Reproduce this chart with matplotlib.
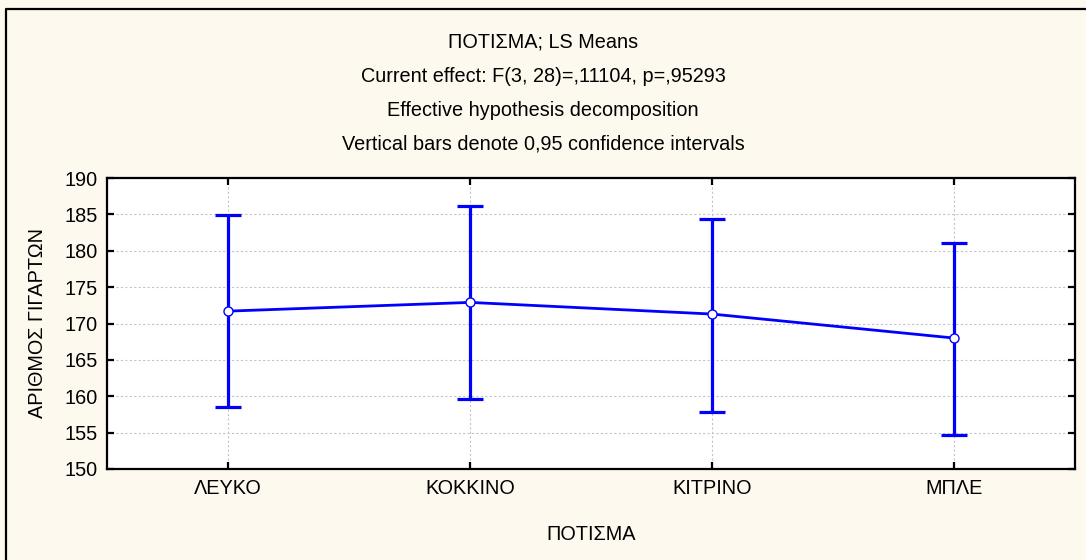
import numpy as np
import matplotlib.pyplot as plt
from matplotlib.lines import Line2D

plt.rcParams['font.family'] = ['Liberation Sans', 'DejaVu Sans']

# LS means and 0.95 confidence limits
groups = ['ΛΕΥΚΟ', 'ΚΟΚΚΙΝΟ', 'ΚΙΤΡΙΝΟ', 'ΜΠΛΕ']
means = [171.7, 172.9, 171.3, 168.0]
upper = [184.9, 186.1, 184.3, 181.0]
lower = [158.5, 159.6, 157.9, 154.7]
yticks = [150, 155, 160, 165, 170, 175, 180, 185, 190]

title_lines = ['ΠΟΤΙΣΜΑ; LS Means',
               'Current effect: F(3, 28)=,11104, p=,95293',
               'Effective hypothesis decomposition',
               'Vertical bars denote 0,95 confidence intervals']

bg = '#fdf9ee'
blue = '#0000ff'
fs = 14.3

fig = plt.figure(figsize=(10.86, 5.6), dpi=100, facecolor=bg)
ax = fig.add_axes([107/1086, 1-469/560, 968/1086, 291/560])
ax.set_facecolor('white')

x = np.arange(len(groups))
m = np.array(means)
yerr = [m - np.array(lower), np.array(upper) - m]
ax.errorbar(x, m, yerr=yerr, fmt='none', ecolor=blue, elinewidth=2.3,
            capsize=9.5, capthick=2.3, zorder=3)
ax.plot(x, m, color=blue, lw=2.0, marker='o', ms=6.5, mfc='white',
        mec=blue, mew=1.0, zorder=4)

ax.set_xlim(-0.5, 3.5)
ax.set_ylim(150, 190)
ax.set_xticks(x)
ax.set_xticklabels(groups)
ax.set_yticks(yticks)
ax.tick_params(direction='in', length=5, width=1.6, top=True, right=True,
               labelsize=fs, pad=7, colors='black')
ax.grid(True, color='#c4c4c4', ls=(0, (2, 2)), lw=0.8)
for s in ax.spines.values():
    s.set_linewidth(1.6)

ax.set_xlabel('ΠΟΤΙΣΜΑ', fontsize=fs, labelpad=20)
ax.set_ylabel('ΑΡΙΘΜΟΣ ΓΙΓΑΡΤΩΝ', fontsize=fs, labelpad=12)

for i, t in enumerate(title_lines):
    fig.text(0.5, 1 - (42 + 34*i)/560, t, ha='center', va='center', fontsize=fs)

# outer frame: only top and left edges are inside the image
y_top = 1 - 9/560
x_left = 6/1086
fig.lines.append(Line2D([x_left, x_left, 1.0], [0.0, y_top, y_top],
                        transform=fig.transFigure, color='black', lw=1.6))

fig.savefig('out.png', dpi=100, facecolor=bg)
